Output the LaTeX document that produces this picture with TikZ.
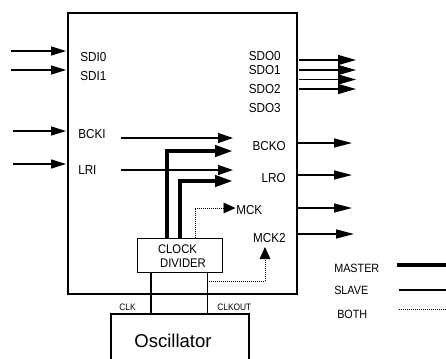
\documentclass[tikz,border=0pt]{standalone}
\usepackage{fontspec}
\newfontfamily\labfont[FakeStretch=0.9]{Liberation Sans}
\newfontfamily\oscfont{Liberation Sans}
\usetikzlibrary{arrows.meta}
\begin{document}
\begin{tikzpicture}[x=0.75pt,y=-0.75pt,
  thinln/.style={line width=1pt},
  master/.style={line width=3pt},
  bothln/.style={line width=0.7pt, dash pattern=on 0.75pt off 0.75pt},
  inarr/.style={thinln,-{Triangle[length=11.25pt,width=6.75pt]}},
  slavearr/.style={thinln,-{Triangle[length=11.25pt,width=7.5pt]}},
  masterarr/.style={master,-{Triangle[length=13.5pt,width=8.25pt]}},
  outarr/.style={thinln,-{Triangle[length=13.5pt,width=6.75pt]}},
  sdoarr/.style={thinln,-{Triangle[length=13.5pt,width=7.5pt]}},
  dotarr/.style={bothln,-{Triangle[length=9pt,width=8pt]}},
  boxnode/.style={draw,thinln,inner sep=0pt},
  lab/.style={inner sep=0pt,font=\labfont\fontsize{9.75}{11}\selectfont},
  leg/.style={inner sep=0pt,font=\labfont\fontsize{9}{10}\selectfont},
  small/.style={inner sep=0pt,font=\labfont\fontsize{7}{8}\selectfont},
  divtext/.style={inner sep=0pt,font=\labfont\fontsize{9.4}{10}\selectfont},
]
\useasboundingbox (0,0) rectangle (446,358);
\clip (0,0) rectangle (446,358);

% boxes
\node[boxnode,minimum width=171.75pt,minimum height=210.75pt] (chip) at (182.5,153.5) {};
\node[boxnode,minimum width=63.6pt,minimum height=25.5pt] (div) at (180.1,255.3) {};
\node[boxnode,minimum width=103.5pt,minimum height=49.5pt] (osc) at (180,347) {};
\node[inner sep=0pt,font=\oscfont\fontsize{13.9}{15}\selectfont] (osctxt) at (173,341) {Oscillator};
\node[divtext] (dt1) at (177.5,249) {CLOCK};
\node[divtext] (dt2) at (183,263) {DIVIDER};

% labels
\node[lab,anchor=west] (sdi0) at (80,57) {SDI0};
\node[lab,anchor=west] (sdi1) at (80,76) {SDI1};
\node[lab,anchor=west] (bcki) at (78,134) {BCKI};
\node[lab,anchor=west] (lri) at (78,170) {LRI};
\node[lab,anchor=east] (sdo0) at (281,56) {SDO0};
\node[lab,anchor=east] (sdo1) at (281,70) {SDO1};
\node[lab,anchor=east] (sdo2) at (281,89) {SDO2};
\node[lab,anchor=east] (sdo3) at (281,108) {SDO3};
\node[lab,anchor=east] (bcko) at (286,146) {BCKO};
\node[lab,anchor=east] (lro) at (286,178) {LRO};
\node[lab,anchor=west] (mck) at (236,210) {MCK};
\node[lab,anchor=east] (mck2) at (286,238) {MCK2};
\node[small,anchor=west] (clk) at (119,307) {CLK};
\node[small,anchor=west] (clkout) at (217,307) {CLKOUT};
\node[leg,anchor=west] (lmaster) at (334,268) {MASTER};
\node[leg,anchor=west] (lslave) at (334,290) {SLAVE};
\node[leg,anchor=west] (lboth) at (337,314) {BOTH};

% coordinates
\coordinate (i0s) at (11,51);   \coordinate (i0e) at (66,51);
\coordinate (i1s) at (11,70);   \coordinate (i1e) at (66,70);
\coordinate (i2s) at (13,131);  \coordinate (i2e) at (66,131);
\coordinate (i3s) at (13,164);  \coordinate (i3e) at (66,164);
\coordinate (s1s) at (121,138); \coordinate (s1e) at (233,138);
\coordinate (s2s) at (121,170); \coordinate (s2e) at (233,170);
\coordinate (m1s) at (167,238.3); \coordinate (m1e) at (233,151);
\coordinate (m2s) at (180,238.3); \coordinate (m2e) at (233,181);
\coordinate (d1s) at (195,238.3); \coordinate (d1e) at (235.5,208);
\coordinate (d2s) at (207.3,281); \coordinate (d2e) at (265,247);
\coordinate (o0s) at (299,60);  \coordinate (o0e) at (356,60);
\coordinate (o1s) at (299,70);  \coordinate (o1e) at (356,70);
\coordinate (o2s) at (299,79.5);\coordinate (o2e) at (356,79.5);
\coordinate (o3s) at (299,89);  \coordinate (o3e) at (356,89);
\coordinate (o4s) at (297,143); \coordinate (o4e) at (352,143);
\coordinate (o5s) at (297,175); \coordinate (o5e) at (352,175);
\coordinate (o6s) at (297,208); \coordinate (o6e) at (352,208);
\coordinate (o7s) at (297,234); \coordinate (o7e) at (354,234);
\coordinate (c1s) at (151,272.3); \coordinate (c1e) at (151,314);
\coordinate (c2s) at (207.3,272.3); \coordinate (c2e) at (207.3,314);
\coordinate (lg1s) at (397,265); \coordinate (lg1e) at (450,265);
\coordinate (lg2s) at (399,290); \coordinate (lg2e) at (450,290);
\coordinate (lg3s) at (399,309); \coordinate (lg3e) at (450,309);

% input arrows
\draw[inarr] (i0s) -- (i0e);
\draw[inarr] (i1s) -- (i1e);
\draw[inarr] (i2s) -- (i2e);
\draw[inarr] (i3s) -- (i3e);
% slave inner
\draw[slavearr] (s1s) -- (s1e);
\draw[slavearr] (s2s) -- (s2e);
% master
\draw[masterarr] (m1s) |- (m1e);
\draw[masterarr] (m2s) |- (m2e);
% both (dotted)
\draw[dotarr] (d1s) |- (d1e);
\draw[dotarr] (d2s) -| (d2e);
% outputs
\draw[sdoarr] (o0s) -- (o0e);
\draw[sdoarr] (o1s) -- (o1e);
\draw[sdoarr] (o2s) -- (o2e);
\draw[sdoarr] (o3s) -- (o3e);
\draw[outarr] (o4s) -- (o4e);
\draw[outarr] (o5s) -- (o5e);
\draw[outarr] (o6s) -- (o6e);
\draw[outarr] (o7s) -- (o7e);
% clock lines
\draw[thinln] (c1s) -- (c1e);
\draw[thinln] (c2s) -- (c2e);
% legend
\draw[master] (lg1s) -- (lg1e);
\draw[thinln] (lg2s) -- (lg2e);
\draw[bothln] (lg3s) -- (lg3e);
\end{tikzpicture}
\end{document}
